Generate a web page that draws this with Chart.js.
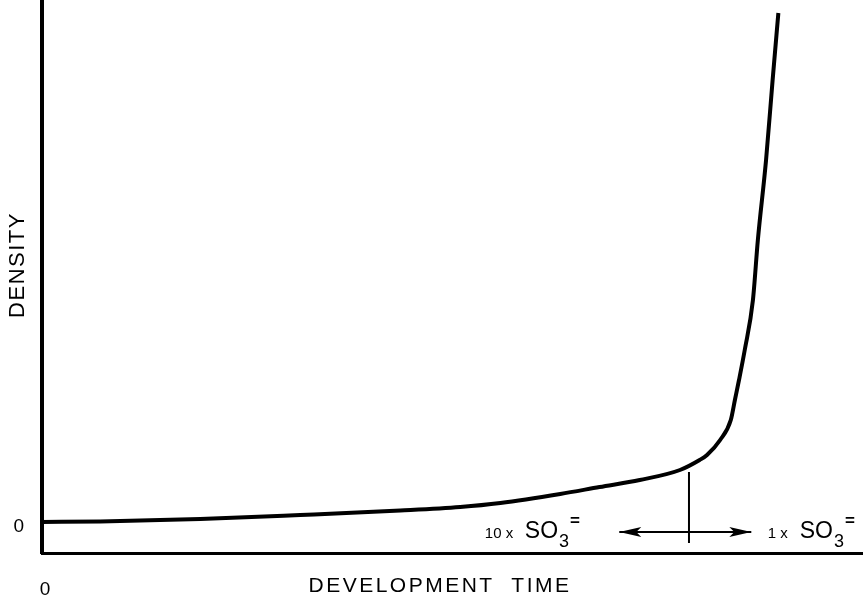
<!DOCTYPE html>
<html lang="en">
<head>
    <meta charset="UTF-8">
    <title>Density vs Development Time</title>
    <script src="https://cdn.jsdelivr.net/npm/chart.js"></script>
    <style>
        html, body { margin: 0; padding: 0; background: #fff; }
        #wrap { position: relative; width: 864px; height: 599px; }
    </style>
</head>
<body>
    <div id="wrap"><canvas id="densityChart"></canvas></div>

    <script>
        // Characteristic curve: density against development time (arbitrary units)
        const curveTime    = [0, 7.1, 19.3, 31.5, 43.7, 51.0, 55.9, 63.2, 68.0, 72.9, 77.8, 80.2, 81.1, 82.7, 84.0, 84.5, 85.0, 85.7, 86.7, 87.3, 88.3, 89.1, 89.8];
        const curveDensity = [0, 0.005, 0.03, 0.07, 0.115, 0.15, 0.19, 0.28, 0.35, 0.42, 0.52, 0.62, 0.67, 0.82, 1.02, 1.22, 1.42, 1.72, 2.22, 2.82, 3.62, 4.42, 5.09];

        // Marker at the sulfite change-over and the double arrow below the curve
        const markerTime = 78.9;
        const markerDensity = [0.50, -0.21];
        const arrowTime = [70.4, 86.5];
        const arrowDensity = -0.10;

        // Labels either side of the marker
        const labelTime = [54.0, 88.5];
        const labelPrefix = ['10 x', '1 x'];
        const labelDensity = -0.16;

        const tickValues = [0];
        const xTitle = 'DEVELOPMENT  TIME';
        const yTitle = 'DENSITY';

        const FONT = '"Liberation Sans", Arial, sans-serif';

        const annotations = {
            id: 'annotations',
            afterDatasetsDraw(chart) {
                const ctx = chart.ctx;
                const xs = chart.scales.x, ys = chart.scales.y;
                ctx.save();
                ctx.fillStyle = '#000';

                // arrow heads at both ends of the shaft
                const ay = ys.getPixelForValue(arrowDensity);
                const head = (tip, dir) => {
                    ctx.beginPath();
                    ctx.moveTo(tip, ay);
                    ctx.lineTo(tip - dir * 22, ay - 5);
                    ctx.lineTo(tip - dir * 17, ay);
                    ctx.lineTo(tip - dir * 22, ay + 5);
                    ctx.closePath();
                    ctx.fill();
                };
                head(xs.getPixelForValue(arrowTime[0]), -1);
                head(xs.getPixelForValue(arrowTime[1]), 1);

                // "n x SO3=" labels
                const base = ys.getPixelForValue(labelDensity);
                ctx.textBaseline = 'alphabetic';
                ctx.textAlign = 'left';
                labelTime.forEach((t, i) => {
                    const x0 = xs.getPixelForValue(t);
                    ctx.font = '15px ' + FONT;
                    ctx.fillText(labelPrefix[i], x0, base);
                    const soX = x0 + (i === 0 ? 40 : 32);
                    ctx.font = '23px ' + FONT;
                    ctx.fillText('SO', soX, base);
                    const w = ctx.measureText('SO').width;
                    ctx.font = '18px ' + FONT;
                    ctx.fillText('3', soX + w + 1, base + 9);
                    ctx.font = 'bold 17px ' + FONT;
                    ctx.fillText('=', soX + w + 12, base - 12);
                });

                // axis titles
                ctx.font = '21px ' + FONT;
                ctx.letterSpacing = '2.5px';
                ctx.textAlign = 'center';
                ctx.textBaseline = 'middle';
                ctx.fillText(xTitle, 440, 586);

                ctx.font = '22px ' + FONT;
                ctx.letterSpacing = '1.5px';
                ctx.translate(18, 265);
                ctx.rotate(-Math.PI / 2);
                ctx.fillText(yTitle, 0, 0);
                ctx.restore();
            }
        };

        const ctx = document.getElementById('densityChart').getContext('2d');
        new Chart(ctx, {
            type: 'scatter',
            data: {
                datasets: [
                    {
                        data: curveTime.map((t, i) => ({ x: t, y: curveDensity[i] })),
                        showLine: true,
                        borderColor: '#000',
                        borderWidth: 4,
                        pointRadius: 0,
                        cubicInterpolationMode: 'monotone'
                    },
                    {
                        data: markerDensity.map(d => ({ x: markerTime, y: d })),
                        showLine: true,
                        borderColor: '#000',
                        borderWidth: 2,
                        pointRadius: 0
                    },
                    {
                        data: arrowTime.map(t => ({ x: t, y: arrowDensity })),
                        showLine: true,
                        borderColor: '#000',
                        borderWidth: 2,
                        pointRadius: 0
                    }
                ]
            },
            options: {
                responsive: true,
                maintainAspectRatio: false,
                animation: false,
                layout: { padding: { left: 0, right: 2, top: 0, bottom: 0 } },
                plugins: {
                    legend: { display: false },
                    tooltip: { enabled: false }
                },
                scales: {
                    x: {
                        type: 'linear',
                        min: 0,
                        max: 100,
                        grid: { display: false, drawTicks: false },
                        border: { display: true, color: '#000', width: 3 },
                        afterBuildTicks: s => { s.ticks = tickValues.map(v => ({ value: v })); },
                        afterFit: s => {
                            s.height = 46;
                            s.paddingLeft = 0; s.paddingRight = 0;
                        },
                        ticks: {
                            color: '#000',
                            padding: 25,
                            labelOffset: 3,
                            font: { family: FONT, size: 19 },
                            callback: v => String(v)
                        }
                    },
                    y: {
                        type: 'linear',
                        min: -0.31,
                        max: 5.22,
                        grid: { display: false, drawTicks: false },
                        border: { display: true, color: '#000', width: 4 },
                        afterBuildTicks: s => { s.ticks = tickValues.map(v => ({ value: v })); },
                        afterFit: s => {
                            s.width = 42;
                            s.paddingTop = 0; s.paddingBottom = 0;
                        },
                        ticks: {
                            color: '#000',
                            padding: 18,
                            labelOffset: 5,
                            font: { family: FONT, size: 19 },
                            callback: v => String(v)
                        }
                    }
                }
            },
            plugins: [annotations]
        });
    </script>
</body>
</html>
